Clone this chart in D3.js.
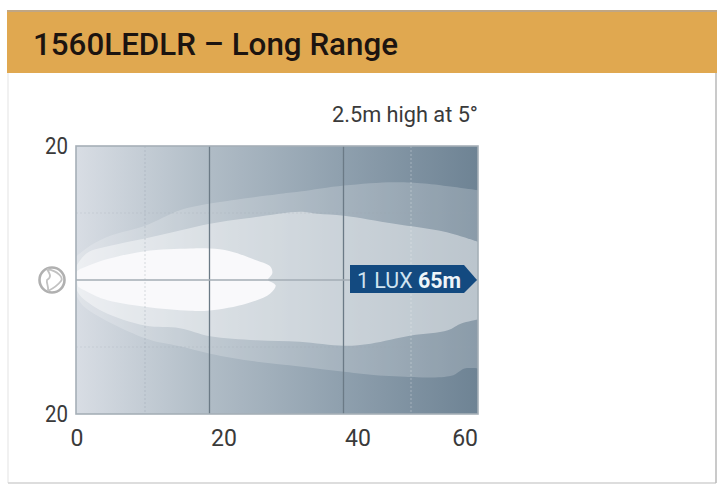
<!DOCTYPE html>
<html><head><meta charset="utf-8">
<script src="https://cdnjs.cloudflare.com/ajax/libs/d3/7.8.5/d3.min.js"></script>
<style>html,body{margin:0;padding:0;background:#fff}svg{display:block}</style></head>
<body><svg id="c" width="720" height="488"></svg>
<script>
(function(){
const titleText = "1560LEDLR – Long Range";
const noteText = "2.5m high at 5°";
const xTicks = [0, 20, 40, 60];
const yTickLabels = [20, -20];
const majorX = [20, 40];
const minorX = [10.3, 50];
const minorY = [10, -10];
const luxLabel = "1 LUX ";
const luxStrong = "65m";
const outerUpper = [[0,3.5],[2.1,5.1],[5.1,6.6],[10.3,8.1],[15.5,10.4],[20,11.4],[30,12.8],[33.4,13.2],[40,14.1],[47.5,14.6],[52,14.4],[60,13.4]];
const outerLower = [[60,-13.2],[58,-13.2],[56,-14.3],[46,-14.3],[40,-13.7],[33.4,-12.9],[27,-12.2],[20,-11],[15.5,-9.9],[10.3,-8.7],[1,-3.8],[0,-2]];
const midUpper = [[0,2],[1.6,4],[5.1,5.1],[10.3,6.2],[15.5,7.4],[20,8.4],[25.5,9.2],[33.4,10.2],[36,9.9],[40,9.6],[47.5,8.4],[55,7.2],[60,5.7]];
const midLower = [[60,-5.9],[57.5,-6.5],[55.5,-7.5],[50,-8.3],[44,-9.5],[40,-9.8],[33.4,-9.2],[27,-9],[20,-8.4],[15.5,-7.2],[10.3,-6.8],[4,-4.7],[0.6,-2.3],[0,-1.2]];
const coreUpper = [[0,0.7],[0.15,1.3],[2,2.2],[5,3.2],[10.3,4.3],[17,4.7],[20,4.7],[23,4.3],[27,2.9],[29,2],[29.3,1],[28.7,0.2]];
const coreLower = [[28.7,-0.1],[29.8,-0.8],[29,-2],[25.5,-3.5],[20,-4.55],[17,-4.6],[10.3,-4],[4,-2.8],[0.3,-1]];

const svg = d3.select("#c");
const W = 720, H = 488;
const x = d3.scaleLinear().domain([0,60]).range([76,478]);
const y = d3.scaleLinear().domain([20,-20]).range([146,414]);
const font = "Roboto, 'Open Sans', sans-serif";

// card
svg.append("rect").attr("width",W).attr("height",H).attr("fill","#fff");
svg.append("path").attr("d","M8,73V483").attr("stroke","#ececec").attr("stroke-width",1.5).attr("fill","none");
svg.append("path").attr("d","M8,483H716").attr("stroke","#d2d2d2").attr("stroke-width",1.5).attr("fill","none");
svg.append("path").attr("d","M716,73V483").attr("stroke","#b8b8b8").attr("stroke-width",1.5).attr("fill","none");
svg.append("rect").attr("x",7).attr("y",10).attr("width",710).attr("height",63).attr("fill","#e0a850");
svg.append("rect").attr("x",7).attr("y",10).attr("width",710).attr("height",2).attr("fill","#c0a684");
svg.append("text").attr("x",33).attr("y",55).attr("fill","#1c1410").attr("font-family",font).attr("font-weight",500)
  .attr("font-size",32).attr("textLength",365).attr("lengthAdjust","spacingAndGlyphs").text(titleText);
svg.append("text").attr("x",332).attr("y",122).attr("fill","#3a3a3a").attr("font-family",font)
  .attr("font-size",22).attr("textLength",146).attr("lengthAdjust","spacingAndGlyphs").text(noteText);

// plot
const defs = svg.append("defs");
const grad = defs.append("linearGradient").attr("id","bg").attr("x1","0").attr("x2","1").attr("y1","0").attr("y2","0");
[[0,"#d8dde4"],[0.33,"#b0bcc6"],[0.66,"#8fa0ae"],[1,"#6e8394"]].forEach(s=>grad.append("stop").attr("offset",s[0]).attr("stop-color",s[1]));
defs.append("clipPath").attr("id","plot").append("rect")
  .attr("x",x(0)).attr("y",y(20)).attr("width",x(60)-x(0)).attr("height",y(-20)-y(20));
const g = svg.append("g").attr("clip-path","url(#plot)");
g.append("rect").attr("x",x(0)).attr("y",y(20)).attr("width",x(60)-x(0)).attr("height",y(-20)-y(20)).attr("fill","url(#bg)");
const line = d3.line().x(d=>x(d[0])).y(d=>y(d[1])).curve(d3.curveCatmullRom.alpha(0.5));
const shape = (u,l)=> line(u) + "L" + line(l).slice(1) + "Z";
g.append("path").attr("d",shape(outerUpper,outerLower)).attr("fill","#fff").attr("fill-opacity",0.2);
g.append("path").attr("d",shape(midUpper,midLower)).attr("fill","#fff").attr("fill-opacity",0.42);
g.append("path").attr("d",shape(coreUpper,coreLower)).attr("fill","#f9f9fb");

// grid
g.selectAll(".minx").data(minorX).join("line").attr("x1",d=>x(d)).attr("x2",d=>x(d)).attr("y1",y(20)).attr("y2",y(-20))
  .attr("stroke",d=>d<30?"#8f9ba6":"#fff").attr("stroke-opacity",d=>d<30?0.35:0.3).attr("stroke-dasharray","2 2");
g.selectAll(".miny").data(minorY).join("line").attr("x1",x(0)).attr("x2",x(60)).attr("y1",d=>y(d)).attr("y2",d=>y(d))
  .attr("stroke","#9aa6b0").attr("stroke-opacity",0.22).attr("stroke-dasharray","2 2");
g.selectAll(".majx").data(majorX).join("line").attr("x1",d=>x(d)-0.5).attr("x2",d=>x(d)-0.5).attr("y1",y(20)).attr("y2",y(-20))
  .attr("stroke","#6b7a86").attr("stroke-width",1.3);
g.append("line").attr("x1",x(0)).attr("x2",x(60)).attr("y1",y(0)).attr("y2",y(0)).attr("stroke","#a3acb4").attr("stroke-width",1.6);
svg.append("rect").attr("x",x(0)).attr("y",y(20)).attr("width",x(60)-x(0)).attr("height",y(-20)-y(20))
  .attr("fill","none").attr("stroke","#a6afb7").attr("stroke-width",1.6);

// tick labels
svg.selectAll(".yl").data(yTickLabels).join("text").attr("x",x(0)-8).attr("y",d=>y(d)+8).attr("text-anchor","end")
  .attr("font-family",font).attr("font-size",23).attr("fill","#3a3a3a").attr("textLength",23).attr("lengthAdjust","spacingAndGlyphs").text(d=>Math.abs(d));
svg.selectAll(".xl").data(xTicks).join("text")
  .attr("x",d=>d===0?x(d)+1:d===60?x(d):x(d)+1)
  .attr("text-anchor",d=>d===0?"middle":d===60?"end":"start")
  .attr("y",y(-20)+32).attr("font-family",font).attr("font-size",23).attr("fill","#3a3a3a").text(d=>d);

// source marker
const cy = y(0);
svg.append("circle").attr("cx",52).attr("cy",cy).attr("r",12.5).attr("fill","none").attr("stroke","#b0b0b0").attr("stroke-width",2.6);
svg.append("path").attr("d",`M47,${cy-11}C58,${cy-9} 64,${cy-2} 61,${cy+1}C58,${cy+5} 54,${cy+8} 48,${cy+11}M47,${cy-11}C50,${cy-6} 52,${cy-3} 47,${cy}C46,${cy+3} 49,${cy+6} 48,${cy+11}`).attr("fill","none").attr("stroke","#c2c2c2").attr("stroke-width",1.8);

// lux arrow
const r = x(60)-1;
const tagTop = cy-15, tagBot = cy+13;
svg.append("path").attr("d",`M350,${tagTop}H${r-13}L${r},${cy}L${r-13},${tagBot}H350Z`).attr("fill","#134a80");
const t = svg.append("text").attr("x",357).attr("y",cy+8).attr("font-family",font).attr("font-size",22).attr("fill","#cfe3f0").attr("textLength",104).attr("lengthAdjust","spacingAndGlyphs");
t.append("tspan").text(luxLabel);
t.append("tspan").attr("font-weight",700).attr("fill","#eef5f9").text(luxStrong);
})();
</script></body></html>
